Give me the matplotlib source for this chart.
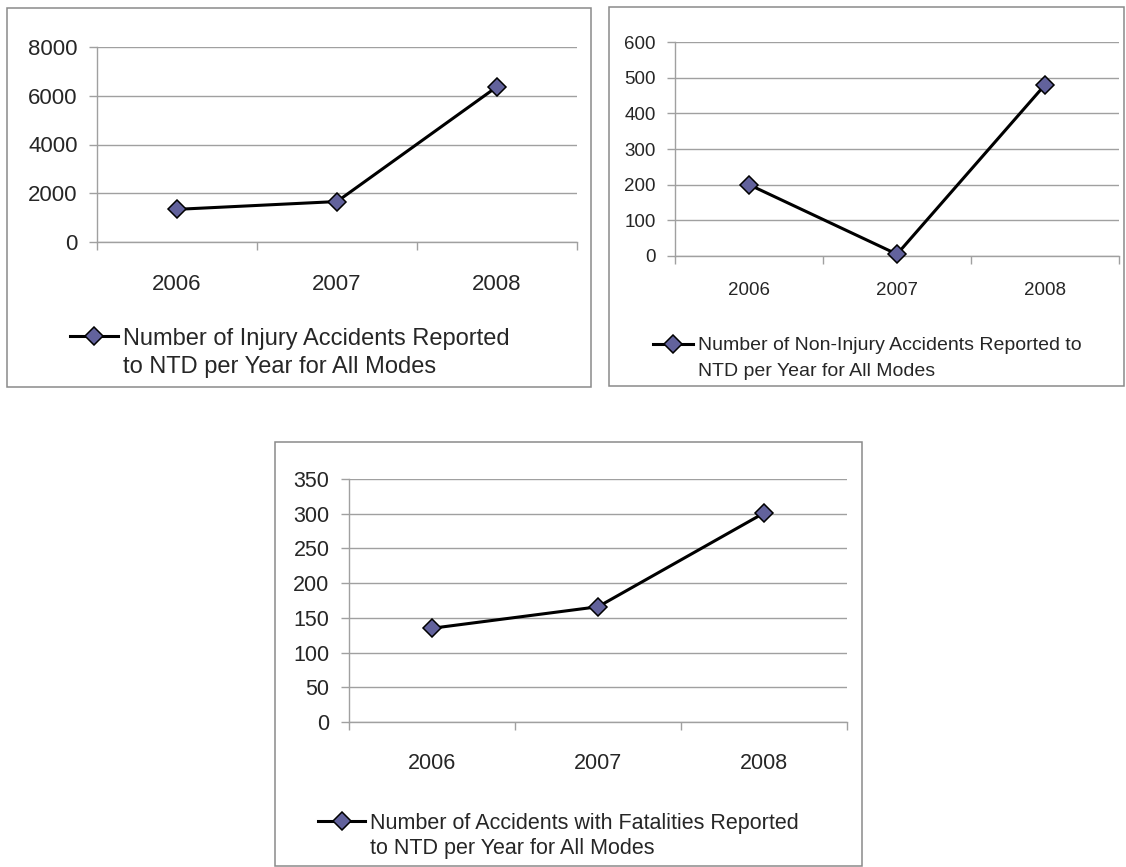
import matplotlib
matplotlib.use("Agg")
import matplotlib.pyplot as plt
from matplotlib.lines import Line2D
from matplotlib.patches import Rectangle

years = ["2006", "2007", "2008"]
injury = [1340, 1660, 6370]
non_injury = [200, 5, 480]
fatalities = [135, 166, 301]

injury_label = ["Number of Injury Accidents Reported", "to NTD per Year for All Modes"]
non_injury_label = ["Number of Non-Injury Accidents Reported to", "NTD per Year for All Modes"]
fatal_label = ["Number of Accidents with Fatalities Reported", "to NTD per Year for All Modes"]

W, H = 1126, 867
plt.rcParams["font.family"] = ["Liberation Sans", "DejaVu Sans"]

fig = plt.figure(figsize=(W / 100, H / 100), dpi=100)
fig.patch.set_facecolor("white")

MARKER_FACE = "#62629c"
GRID = "#a0a0a0"
BORDER = "#8a8a8a"
TEXT = "#262626"


def fx(px):
    return px / W


def fy(py):
    return 1 - py / H


def box(x0, y0, x1, y1):
    fig.add_artist(Rectangle((fx(x0), fy(y1)), fx(x1 - x0), (y1 - y0) / H,
                             transform=fig.transFigure, fill=False,
                             edgecolor=BORDER, linewidth=1.1))


def panel(rect, values, ymax, ystep, tick_fs, xpad, label, leg_fs, leg_x, leg_y, leg_dy):
    left, right, top, bottom = rect
    ax = fig.add_axes([fx(left), fy(bottom), fx(right - left), (bottom - top) / H])
    x = list(range(len(years)))
    ax.plot(x, values, color="black", linewidth=2.2, marker="D", markersize=9,
            markerfacecolor=MARKER_FACE, markeredgecolor="black",
            markeredgewidth=1.1, zorder=5, clip_on=False)
    ax.set_xlim(-0.5, len(years) - 0.5)
    ax.set_ylim(0, ymax)
    ax.set_yticks(range(0, ymax + 1, ystep))
    ax.set_xticks(x)
    ax.set_xticklabels(years)
    ax.set_xticks([i - 0.5 for i in range(len(years) + 1)], minor=True)
    ax.tick_params(axis="x", which="major", length=0, pad=xpad,
                   labelsize=tick_fs, colors=TEXT)
    ax.tick_params(axis="x", which="minor", length=6, color=GRID, width=1)
    ax.tick_params(axis="y", length=6, color=GRID, width=1, labelsize=tick_fs,
                   labelcolor=TEXT, pad=8)
    ax.grid(axis="y", color=GRID, linewidth=1)
    ax.set_axisbelow(True)
    for s in ("top", "right"):
        ax.spines[s].set_visible(False)
    for s in ("left", "bottom"):
        ax.spines[s].set_color(GRID)
        ax.spines[s].set_linewidth(1)

    # legend entry: line with marker, then the series name on two lines
    lx0, lx1 = leg_x
    fig.add_artist(Line2D([fx(lx0), fx(lx1)], [fy(leg_y), fy(leg_y)],
                          transform=fig.transFigure, color="black", linewidth=2.2))
    fig.add_artist(Line2D([fx((lx0 + lx1) / 2)], [fy(leg_y)], transform=fig.transFigure,
                          marker="D", markersize=9, markerfacecolor=MARKER_FACE,
                          markeredgecolor="black", markeredgewidth=1.1, linestyle="none"))
    for i, line in enumerate(label):
        fig.text(fx(lx1 + 5), fy(leg_y + i * leg_dy), line, fontsize=leg_fs,
                 color=TEXT, va="center_baseline", ha="left")
    return ax


box(7, 8, 591, 387)
panel((97, 577, 47, 242), injury, 8000, 2000, 16, 23, injury_label, 17,
      (70, 118), 336, 29)

box(609, 7, 1124, 386)
panel((675, 1119, 42, 256), non_injury, 600, 100, 13.5, 19, non_injury_label, 14,
      (653, 693), 344, 25)

box(275, 442, 862, 866)
panel((349, 847, 479, 722), fatalities, 350, 50, 15.5, 22, fatal_label, 15.5,
      (318, 365), 821, 25)

fig.savefig("out.png", dpi=100, facecolor="white")
